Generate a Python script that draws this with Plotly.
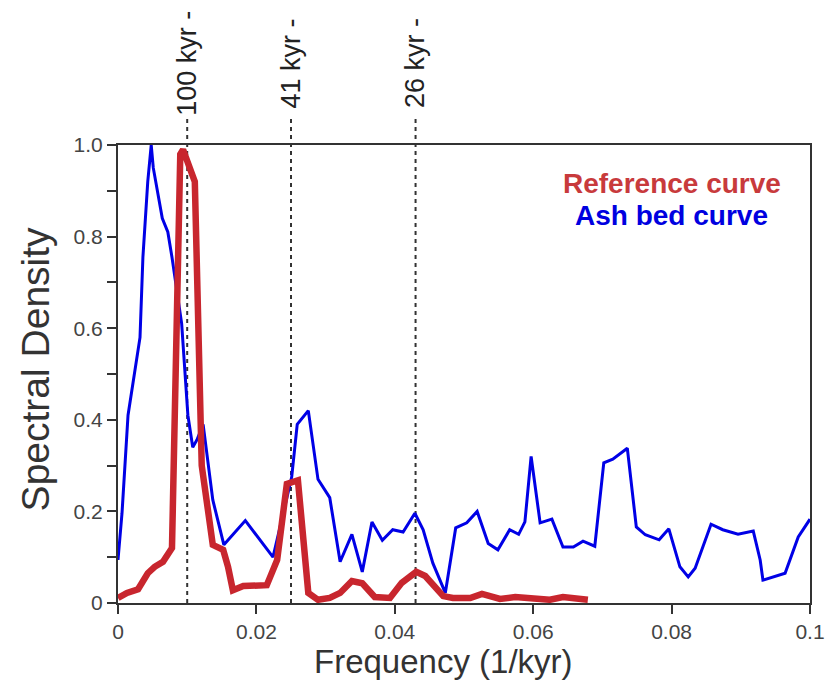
import plotly.graph_objects as go

# Ash bed curve (blue)
ash_freq = [0.0, 0.00058, 0.00145, 0.00318, 0.0036, 0.0043, 0.0048, 0.0051, 0.0064, 0.0072,
            0.0078, 0.0092, 0.0101, 0.0108, 0.0114, 0.0123, 0.0137, 0.0153, 0.0184, 0.0224,
            0.0251, 0.0259, 0.0275, 0.0289, 0.0306, 0.0321, 0.0338, 0.0353, 0.0367, 0.0382,
            0.0397, 0.0412, 0.0429, 0.0441, 0.0455, 0.0473, 0.0488, 0.0504, 0.0519, 0.0535,
            0.0549, 0.0566, 0.0579, 0.0588, 0.0597, 0.0610, 0.0627, 0.0643, 0.0658, 0.0672,
            0.0689, 0.0702, 0.0715, 0.0736, 0.0749, 0.0762, 0.0782, 0.0796, 0.0812, 0.0824,
            0.0834, 0.0857, 0.0874, 0.0896, 0.0918, 0.0928, 0.0932, 0.0947, 0.0964, 0.0983, 0.1]
ash_dens = [0.094, 0.196, 0.41, 0.58, 0.755, 0.92, 1.0, 0.95, 0.84, 0.81,
            0.755, 0.61, 0.41, 0.34, 0.356, 0.39, 0.225, 0.127, 0.18, 0.10,
            0.275, 0.39, 0.42, 0.27, 0.23, 0.09, 0.15, 0.068, 0.177, 0.137,
            0.16, 0.155, 0.196, 0.16, 0.087, 0.022, 0.164, 0.175, 0.2, 0.13,
            0.116, 0.16, 0.15, 0.177, 0.32, 0.175, 0.183, 0.122, 0.122, 0.135,
            0.124, 0.306, 0.314, 0.338, 0.166, 0.149, 0.138, 0.162, 0.079, 0.057,
            0.076, 0.172, 0.16, 0.15, 0.157, 0.094, 0.05, 0.057, 0.065, 0.144, 0.183]

# Reference curve (red)
ref_freq = [0.0, 0.0013, 0.0029, 0.0043, 0.0053, 0.0065, 0.0078, 0.009, 0.0094, 0.0111,
            0.0121, 0.013, 0.0137, 0.0152, 0.0159, 0.0166, 0.0181, 0.0215, 0.023, 0.0244,
            0.026, 0.0275, 0.0289, 0.0306, 0.0321, 0.0338, 0.0353, 0.0371, 0.0393, 0.041,
            0.0431, 0.0444, 0.047, 0.0484, 0.0509, 0.0526, 0.0552, 0.0574, 0.0595, 0.0624,
            0.0643, 0.0663, 0.0679]
ref_dens = [0.011, 0.022, 0.03, 0.065, 0.079, 0.09, 0.12, 0.98, 0.99, 0.92,
            0.3, 0.19, 0.127, 0.116, 0.079, 0.028, 0.037, 0.039, 0.094, 0.26,
            0.268, 0.022, 0.007, 0.011, 0.022, 0.048, 0.043, 0.013, 0.011, 0.044,
            0.068, 0.059, 0.015, 0.011, 0.011, 0.02, 0.009, 0.013, 0.009, 0.007,
            0.013, 0.011, 0.007]

# Orbital cycle markers
cycle_freqs = [0.01, 0.025, 0.043]
cycle_labels = ["100 kyr -", "41 kyr -", "26 kyr -"]

x_ticks = [0, 0.02, 0.04, 0.06, 0.08, 0.1]
x_ticktext = ["0", "0.02", "0.04", "0.06", "0.08", "0.1"]
y_ticks = [0, 0.1, 0.2, 0.3, 0.4, 0.5, 0.6, 0.7, 0.8, 0.9, 1.0]
y_ticktext = ["0", "", "0.2", "", "0.4", "", "0.6", "", "0.8", "", "1.0"]

FONT = "Liberation Sans, Arial, sans-serif"
RED = "#c8262e"
BLUE = "#0000e6"
AXIS = "#333333"

fig = go.Figure()
fig.add_trace(go.Scatter(x=ash_freq, y=ash_dens, mode="lines",
                         line=dict(color=BLUE, width=3), name="Ash bed curve"))
fig.add_trace(go.Scatter(x=ref_freq, y=ref_dens, mode="lines",
                         line=dict(color=RED, width=6.5), name="Reference curve"))

for f, lab in zip(cycle_freqs, cycle_labels):
    fig.add_shape(type="line", xref="x", yref="paper", x0=f, x1=f, y0=0, y1=1.058,
                  line=dict(color=AXIS, width=2, dash="4px,4px"), layer="below")
    fig.add_annotation(x=f, xref="x", y=1.178, yref="paper", text=lab, textangle=-90,
                       showarrow=False, font=dict(family=FONT, size=27, color="#222222"),
                       xanchor="center", yanchor="middle")

fig.add_annotation(x=0.80, xref="paper", y=0.915, yref="paper", text="<b>Reference curve</b>",
                   showarrow=False, font=dict(family=FONT, size=28, color="#c83a3c"),
                   xanchor="center", yanchor="middle")
fig.add_annotation(x=0.80, xref="paper", y=0.847, yref="paper", text="<b>Ash bed curve</b>",
                   showarrow=False, font=dict(family=FONT, size=28, color="#0000e0"),
                   xanchor="center", yanchor="middle")

# Axis titles
fig.add_annotation(x=0.47, xref="paper", y=-0.127, yref="paper", text="Frequency (1/kyr)",
                   showarrow=False, font=dict(family=FONT, size=33, color="#333333"),
                   xanchor="center", yanchor="middle")
fig.add_annotation(x=-0.12, xref="paper", y=0.51, yref="paper", text="Spectral Density",
                   textangle=-90, showarrow=False,
                   font=dict(family=FONT, size=39, color="#333333"),
                   xanchor="center", yanchor="middle")

axis_common = dict(showline=True, linecolor=AXIS, linewidth=2, mirror=True,
                   ticks="outside", ticklen=9, tickwidth=2, tickcolor=AXIS,
                   showgrid=False, zeroline=False, automargin=False,
                   tickfont=dict(family=FONT, size=21, color="#444444"))

fig.update_xaxes(range=[0, 0.1], tickvals=x_ticks, ticktext=x_ticktext, **axis_common)
fig.update_yaxes(range=[0, 1.0], tickvals=y_ticks, ticktext=y_ticktext, **axis_common)

fig.update_layout(width=828, height=683, margin=dict(l=118, r=18, t=145, b=80),
                  plot_bgcolor="white", paper_bgcolor="white", showlegend=False,
                  font=dict(family=FONT))

fig.write_html("out.html")
